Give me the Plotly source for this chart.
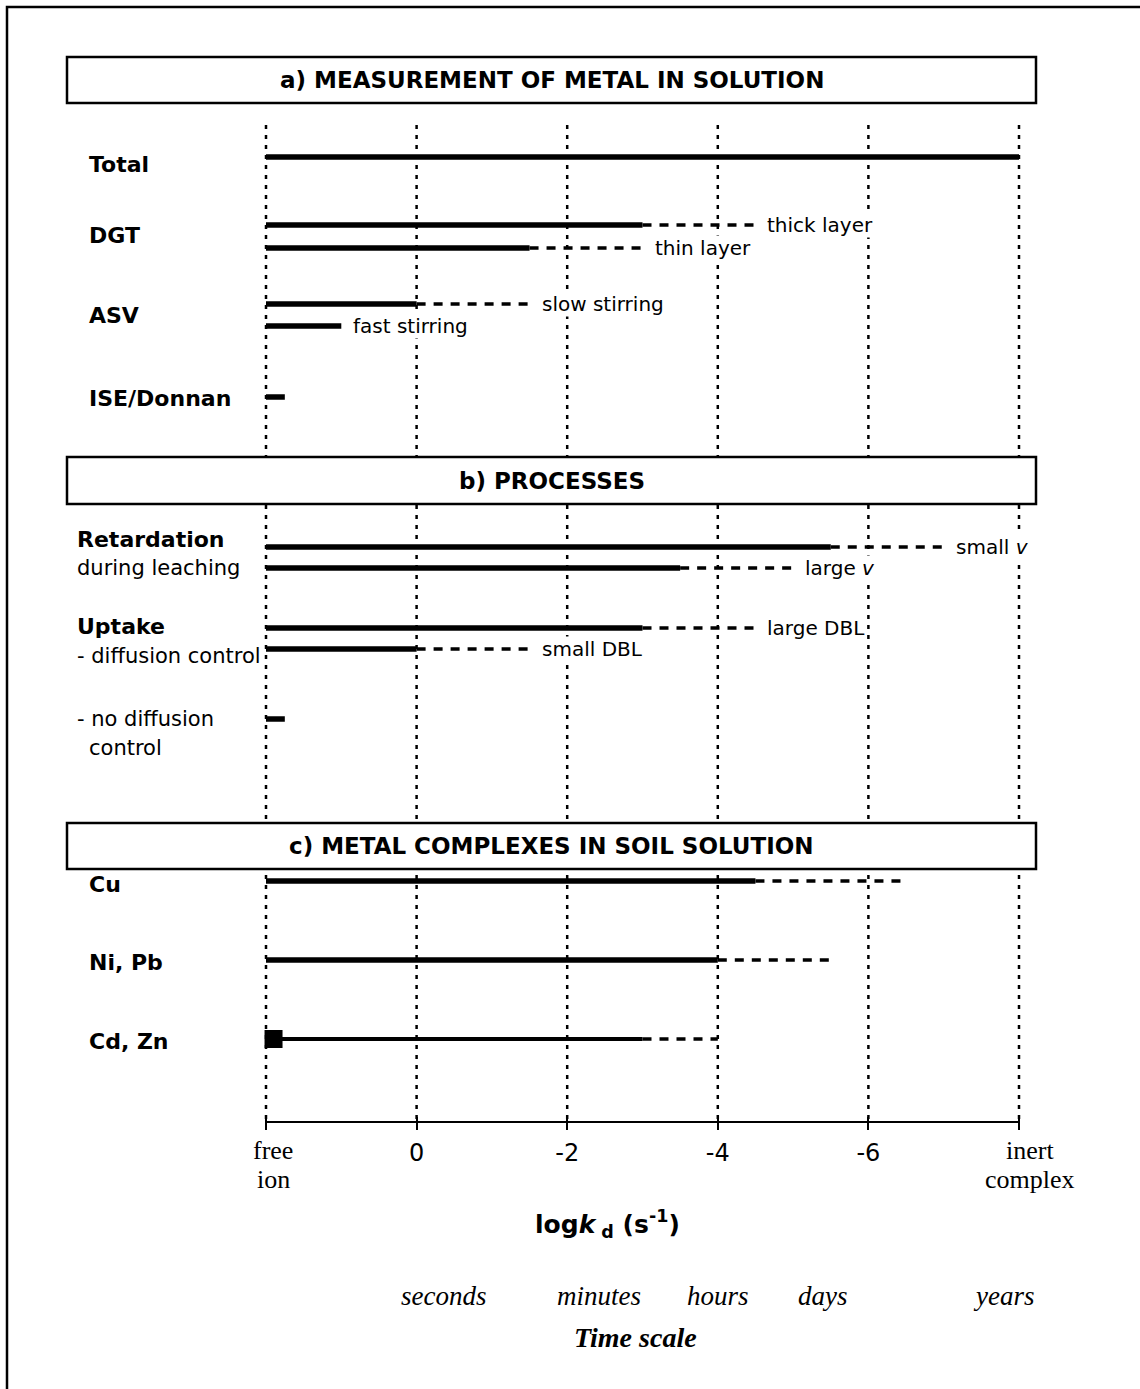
import plotly.graph_objects as go

W, H = 1140, 1389

# ---------------- data ----------------
grid_vals = [2, 0, -2, -4, -6, -8]            # log kd ; 2 = free ion, -8 = inert complex
num_ticks = [0, -2, -4, -6]
num_tick_text = ["0", "-2", "-4", "-6"]
end_vals = [2, -8]
end_texts = [["free", "ion"], ["inert", "complex"]]

free_ion = 2.0
line_names = ["Total", "DGT thick", "DGT thin", "ASV slow", "ASV fast", "ISE/Donnan",
              "Retardation small v", "Retardation large v", "Uptake large DBL",
              "Uptake small DBL", "Uptake no diffusion", "Cu", "Ni, Pb", "Cd, Zn"]
solid_end = [-8.0, -3.0, -1.5, 0.0, 1.0, 1.75, -5.5, -3.5, -3.0, 0.0, 1.75, -4.5, -4.0, -3.0]
dash_end = [None, -4.5, -3.0, -1.5, None, None, -7.0, -5.0, -4.5, -1.5, None, -6.5, -5.5, -4.0]
line_labels = ["", "thick layer", "thin layer", "slow stirring", "fast stirring", "",
               "small <i>v</i>", "large <i>v</i>", "large DBL", "small DBL", "", "", "", ""]
cd_marker_x = 1.9

time_labels = ["seconds", "minutes", "hours", "days", "years"]
time_pos = [-0.36, -2.42, -4.0, -5.4, -7.8]

section_titles = ["a) MEASUREMENT OF METAL IN SOLUTION", "b) PROCESSES",
                  "c) METAL COMPLEXES IN SOIL SOLUTION"]

# ---------------- layout constants (pixels) ----------------
row_pos = [157, 225, 248, 304, 326, 397, 547, 568, 628, 649, 719, 881, 960, 1039]
left_labels = [("<b>Total</b>", 87, 164), ("<b>DGT</b>", 87, 235), ("<b>ASV</b>", 87, 315),
               ("<b>ISE/Donnan</b>", 87, 398),
               ("<b>Retardation</b>", 75, 539), ("during leaching", 75, 568),
               ("<b>Uptake</b>", 75, 626), ("- diffusion control", 75, 656),
               ("- no diffusion", 75, 719), ("control", 87, 748),
               ("<b>Cu</b>", 87, 884), ("<b>Ni, Pb</b>", 87, 962), ("<b>Cd, Zn</b>", 87, 1041)]
boxes = [(57, 103), (457, 504), (823, 869)]
BOX_X0, BOX_X1 = 67, 1036
GRID_TOP, AXIS_Y, PLOT_BOTTOM = 125, 1122, 1130
PX_PER_UNIT = (1019 - 266) / 10.0
DOM_L, DOM_R = 250, 1040

SANS = "DejaVu Sans"
SERIF = "Liberation Serif"


def py(p):  # pixel row -> paper y
    return 1 - p / H


def px(p):  # pixel col -> paper x
    return p / W


fig = go.Figure()

# dotted vertical grid lines
gx, gy = [], []
for v in grid_vals:
    gx += [v, v, None]
    gy += [GRID_TOP, AXIS_Y, None]
fig.add_trace(go.Scatter(x=gx, y=gy, mode="lines", hoverinfo="skip",
                         line=dict(color="black", width=2.5, dash="4px,6px")))

# axis line
fig.add_trace(go.Scatter(x=[grid_vals[0], grid_vals[-1]], y=[AXIS_Y, AXIS_Y], mode="lines",
                         hoverinfo="skip", line=dict(color="black", width=2)))

annotations = []
for i, name in enumerate(line_names):
    y = row_pos[i]
    w = 4 if name == "Cd, Zn" else 5.5
    fig.add_trace(go.Scatter(x=[free_ion, solid_end[i]], y=[y, y], mode="lines", name=name,
                             hoverinfo="skip", line=dict(color="black", width=w)))
    end = solid_end[i]
    if dash_end[i] is not None:
        fig.add_trace(go.Scatter(x=[solid_end[i], dash_end[i]], y=[y, y], mode="lines",
                                 hoverinfo="skip",
                                 line=dict(color="black", width=3.5, dash="9px,8px")))
        end = dash_end[i]
    if line_labels[i]:
        annotations.append(dict(x=end, y=y, xref="x", yref="y", text=line_labels[i],
                                xanchor="left", yanchor="middle", xshift=11, showarrow=False,
                                bgcolor="white", borderpad=0,
                                font=dict(family=SANS, size=20, color="black")))

# Cd, Zn square marker
fig.add_trace(go.Scatter(x=[cd_marker_x], y=[row_pos[-1]], mode="markers", cliponaxis=False,
                         hoverinfo="skip",
                         marker=dict(symbol="square", size=18, color="black")))

# left row labels
for txt, x0, y0 in left_labels:
    annotations.append(dict(x=px(x0), y=y0, xref="paper", yref="y", text=txt,
                            xanchor="left", yanchor="middle", showarrow=False,
                            font=dict(family=SANS, size=22 if "<b>" in txt else 21,
                                      color="black")))

# section boxes
shapes = []
for (t, b), title in zip(boxes, section_titles):
    shapes.append(dict(type="rect", xref="paper", yref="paper", x0=px(BOX_X0), x1=px(BOX_X1),
                       y0=py(b), y1=py(t), fillcolor="white", layer="above",
                       line=dict(color="black", width=2.5)))
    annotations.append(dict(x=px((BOX_X0 + BOX_X1) / 2), y=py((t + b) / 2), xref="paper",
                            yref="paper", text="<b>" + title + "</b>", showarrow=False,
                            xanchor="center", yanchor="middle",
                            font=dict(family=SANS, size=23, color="black")))

# outer frame
shapes.append(dict(type="rect", xref="paper", yref="paper", x0=px(7), x1=px(W + 10),
                   y0=py(H + 10), y1=py(7), line=dict(color="black", width=2.5),
                   fillcolor="rgba(0,0,0,0)", layer="above"))

# end tick words (free ion / inert complex), one annotation per line
for val, words, shift in zip(end_vals, end_texts, [7, 11]):
    for word, yy in zip(words, [1150, 1179]):
        annotations.append(dict(x=val, y=py(yy), xref="x", yref="paper", text=word,
                                xshift=shift, showarrow=False, xanchor="center",
                                yanchor="middle",
                                font=dict(family=SERIF, size=26, color="black")))

# axis title
annotations.append(dict(x=px(533), y=py(1224), xref="paper", yref="paper",
                        text="<b>log<i>k</i><sub> d</sub> (s<sup>-1</sup>)</b>",
                        showarrow=False, xanchor="left", yanchor="middle",
                        font=dict(family=SANS, size=25, color="black")))

# time scale
for lab, pos in zip(time_labels, time_pos):
    annotations.append(dict(x=pos, y=py(1296), xref="x", yref="paper", text="<i>" + lab + "</i>",
                            showarrow=False, xanchor="center", yanchor="middle",
                            font=dict(family=SERIF, size=27, color="black")))
annotations.append(dict(x=px(635), y=py(1337), xref="paper", yref="paper",
                        text="<b><i>Time scale</i></b>", showarrow=False,
                        xanchor="center", yanchor="middle",
                        font=dict(family=SERIF, size=28, color="black")))

fig.update_layout(
    width=W, height=H, margin=dict(l=0, r=0, t=0, b=0),
    paper_bgcolor="white", plot_bgcolor="white", showlegend=False,
    shapes=shapes, annotations=annotations,
    xaxis=dict(domain=[px(DOM_L), px(DOM_R)],
               range=[2 + (266 - DOM_L) / PX_PER_UNIT, 2 - (DOM_R - 266) / PX_PER_UNIT],
               tickmode="array", tickvals=num_ticks, ticktext=num_tick_text,
               ticks="inside", ticklen=13, tickwidth=2, tickcolor="black",
               minor=dict(tickmode="array", tickvals=end_vals, ticks="inside", ticklen=13,
                          tickwidth=2, tickcolor="black", showgrid=False),
               showline=False, showgrid=False,
               zeroline=False, automargin=False, ticklabelstandoff=6,
               tickfont=dict(family=SANS, size=24, color="black")),
    yaxis=dict(domain=[1 - PLOT_BOTTOM / H, 1], range=[PLOT_BOTTOM, 0], visible=False,
               automargin=False),
)

fig.write_html("out.html", config={"displayModeBar": False},
               post_script="document.body.style.margin='0';document.body.style.overflow='hidden';")
